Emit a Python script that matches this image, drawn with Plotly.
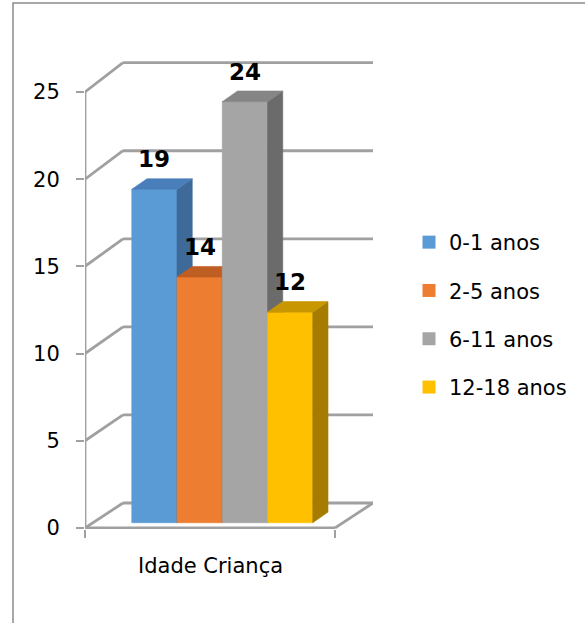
import plotly.graph_objects as go

# ---------------- data ----------------
categories = ["0-1 anos", "2-5 anos", "6-11 anos", "12-18 anos"]
values = [19, 14, 24, 12]
group_label = "Idade Criança"
y_ticks = [0, 5, 10, 15, 20, 25]

# ---------------- style ----------------
front_colors = ["#5B9BD5", "#ED7D31", "#A5A5A5", "#FFC000"]
top_colors = ["#4A7EBB", "#BF5E22", "#858585", "#C89700"]
side_colors = ["#3D6A98", "#A5531C", "#6B6B6B", "#A67C00"]
grid_color = "#A0A0A0"
FONT = "DejaVu Sans, sans-serif"
FS = 21

W, H = 585, 623
ML, MR, MT, MB = 85, 212, 51, 94
PX_PER_CAT = 250.0      # pixels for the single category width (front floor)
PX_PER_VAL = 17.44      # pixels per value unit on the front axis
plot_w = W - ML - MR
plot_h = H - MT - MB
Y_MIN = -0.06
x_range = [0, plot_w / PX_PER_CAT]
y_range = [Y_MIN, Y_MIN + plot_h / PX_PER_VAL]

# pseudo-3D geometry (in axis units)
WALL_DX, WALL_DY, WALL_S = 0.152, 1.43, 1.01
BAR_X0, BAR_W = 0.187, 0.181
BAR_BASE, BAR_S = 0.30, 1.006
BAR_DX, BAR_DY = 0.061, 0.61
LABEL_DY = 1.72


def back(v):
    return WALL_DY + v * WALL_S


def px_to_paper_x(px):
    return (px - ML) / plot_w


def px_to_paper_y(py):
    return (H - MB - py) / plot_h


fig = go.Figure()

# ---- walls / gridlines (shapes below traces) ----
shapes = []
gl = dict(color=grid_color, width=2.8)
for v in y_ticks:
    shapes.append(dict(type="line", xref="x", yref="y", x0=0, y0=v,
                       x1=WALL_DX, y1=back(v), line=gl, layer="below"))
    shapes.append(dict(type="line", xref="x", yref="y", x0=WALL_DX, y0=back(v),
                       x1=WALL_DX + 1, y1=back(v), line=gl, layer="below"))
shapes.append(dict(type="line", xref="x", yref="y", x0=0, y0=0, x1=0,
                   y1=max(y_ticks), line=gl, layer="below"))
shapes.append(dict(type="line", xref="x", yref="y", x0=0, y0=0, x1=1, y1=0,
                   line=gl, layer="below"))
shapes.append(dict(type="line", xref="x", yref="y", x0=1, y0=0, x1=1 + WALL_DX,
                   y1=back(0), line=gl, layer="below"))
# outer chart border
shapes.append(dict(type="rect", xref="paper", yref="paper",
                   x0=px_to_paper_x(13), x1=px_to_paper_x(W + 50),
                   y0=px_to_paper_y(H + 50), y1=px_to_paper_y(3),
                   line=dict(color="#8C8C8C", width=1.5), layer="below"))

# ---- 3D bars (painter's order, left to right) ----
annotations = []
for i, (name, v) in enumerate(zip(categories, values)):
    x0 = BAR_X0 + i * BAR_W
    x1 = x0 + BAR_W
    yb = BAR_BASE
    yt = BAR_BASE + v * BAR_S
    faces = [
        ([x0, x1, x1, x0, x0], [yb, yb, yt, yt, yb], front_colors[i]),
        ([x1, x1 + BAR_DX, x1 + BAR_DX, x1, x1],
         [yb, yb + BAR_DY, yt + BAR_DY, yt, yb], side_colors[i]),
        ([x0, x1, x1 + BAR_DX, x0 + BAR_DX, x0],
         [yt, yt, yt + BAR_DY, yt + BAR_DY, yt], top_colors[i]),
    ]
    for fx, fy, col in faces:
        fig.add_trace(go.Scatter(x=fx, y=fy, mode="lines", fill="toself",
                                 fillcolor=col, line=dict(color=col, width=0.6),
                                 hoverinfo="skip", showlegend=False))
    annotations.append(dict(x=(x0 + x1) / 2, y=yt + LABEL_DY, xref="x", yref="y",
                            text=f"<b>{v}</b>", showarrow=False,
                            font=dict(family=FONT, size=23, color="#000000"),
                            xanchor="center", yanchor="middle"))

# ---- legend entries ----
for i, name in enumerate(categories):
    fig.add_trace(go.Scatter(x=[None], y=[None], mode="markers", name=name,
                             marker=dict(symbol="square", size=13,
                                         color=front_colors[i]),
                             legendgroup=name, showlegend=True))

annotations.append(dict(x=0.5, y=px_to_paper_y(566), xref="x", yref="paper",
                        text=group_label, showarrow=False,
                        font=dict(family=FONT, size=FS, color="#000000"),
                        xanchor="center", yanchor="middle"))

fig.update_layout(
    width=W, height=H,
    margin=dict(l=ML, r=MR, t=MT, b=MB, pad=0),
    paper_bgcolor="white", plot_bgcolor="white",
    font=dict(family=FONT, size=FS, color="#000000"),
    shapes=shapes, annotations=annotations,
    showlegend=True,
    legend=dict(x=px_to_paper_x(409), y=px_to_paper_y(222), xanchor="left",
                yanchor="top", traceorder="grouped", tracegroupgap=18,
                font=dict(family=FONT, size=FS, color="#000000"),
                bgcolor="rgba(0,0,0,0)", itemclick=False, itemdoubleclick=False),
    xaxis=dict(range=x_range, showgrid=False, zeroline=False, showline=False,
               tickvals=[0, 1], ticktext=["", ""], ticks="outside", ticklen=8,
               tickwidth=2, tickcolor=grid_color, fixedrange=True),
    yaxis=dict(range=y_range, showgrid=False, zeroline=False, showline=False,
               tickvals=y_ticks, ticks="outside", ticklen=8, tickwidth=2,
               tickcolor=grid_color, ticklabelstandoff=12, fixedrange=True,
               tickfont=dict(family=FONT, size=FS, color="#000000")),
)

fig.write_html("out.html", config={"displayModeBar": False},
               post_script="document.body.style.margin='0';document.body.style.padding='0';")
